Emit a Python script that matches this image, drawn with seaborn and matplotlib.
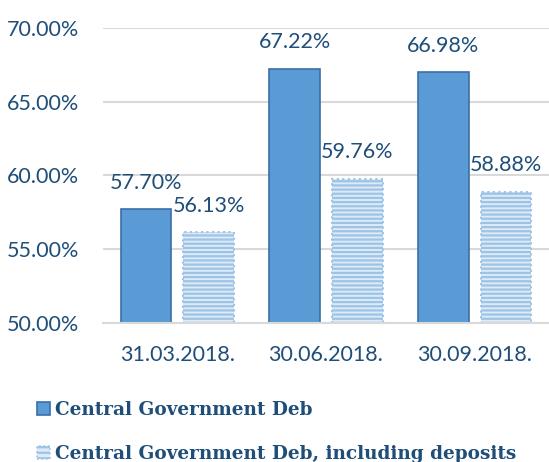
import pandas as pd
import matplotlib
matplotlib.use("Agg")
import matplotlib.pyplot as plt
import seaborn as sns
from matplotlib.patches import Patch
from matplotlib.ticker import FuncFormatter

dates = ["31.03.2018.", "30.06.2018.", "30.09.2018."]
series = ["Central Government Deb", "Central Government Deb, including deposits"]
debt = [57.70, 67.22, 66.98]
debt_incl_deposits = [56.13, 59.76, 58.88]

df = pd.DataFrame({
    "date": dates * 2,
    "series": [series[0]] * 3 + [series[1]] * 3,
    "value": debt + debt_incl_deposits,
})

TEXT = "#1F4E79"
BLUE = "#5B9BD5"
BLUE_EDGE = "#3A6FA8"
LIGHT = "#DDEBF7"
LIGHT_LINE = "#9DC3E6"

sns.set_style("white")
plt.rcParams["font.family"] = ["Lato", "DejaVu Sans"]
plt.rcParams["hatch.linewidth"] = 1.6

fig = plt.figure(figsize=(5.49, 4.62), dpi=100)
ax = fig.add_axes([0.1876, 0.3009, 0.8124, 0.6391])

sns.barplot(data=df, x="date", y="value", hue="series", ax=ax,
            width=0.84, gap=0.19, legend=False)

for bar in ax.containers[0]:
    bar.set_facecolor(BLUE)
    bar.set_edgecolor(BLUE_EDGE)
    bar.set_linewidth(1.2)
for bar in ax.containers[1]:
    bar.set_facecolor(LIGHT)
    bar.set_edgecolor(LIGHT_LINE)
    bar.set_hatch("----")
    bar.set_linestyle(":")
    bar.set_linewidth(1.5)

for cont in ax.containers:
    ax.bar_label(cont, labels=[f"{v:.2f}%" for v in cont.datavalues],
                 padding=12, fontsize=15.5, color=TEXT)

ax.set_ylim(50, 70)
ax.set_xlim(-0.5, 2.5)
ax.set_yticks([50, 55, 60, 65, 70])
ax.yaxis.set_major_formatter(FuncFormatter(lambda v, p: f"{v:.2f}%"))
ax.grid(axis="y", color="#D9D9D9", linewidth=1.5)
ax.set_axisbelow(True)
for s in ["top", "right", "left"]:
    ax.spines[s].set_visible(False)
ax.spines["bottom"].set_color("#D9D9D9")
ax.spines["bottom"].set_linewidth(1.5)
ax.tick_params(axis="both", length=0, labelsize=15.5, labelcolor=TEXT)
ax.tick_params(axis="y", pad=17)
ax.tick_params(axis="x", pad=16)
ax.set_xlabel("")
ax.set_ylabel("")

handles = [
    Patch(facecolor=BLUE, edgecolor=BLUE_EDGE, linewidth=1.2),
    Patch(facecolor=LIGHT, edgecolor=LIGHT_LINE, hatch="---", linestyle=":", linewidth=1.2),
]
fig.legend(handles, series, loc="upper left", bbox_to_anchor=(0.0674, 0.133),
           frameon=False, borderpad=0, borderaxespad=0,
           handlelength=0.7, handleheight=0.7, handletextpad=0.3,
           labelspacing=1.45, labelcolor=TEXT,
           prop={"family": "DejaVu Serif", "weight": "bold", "size": 13.3})

fig.savefig("out.png", dpi=100)
